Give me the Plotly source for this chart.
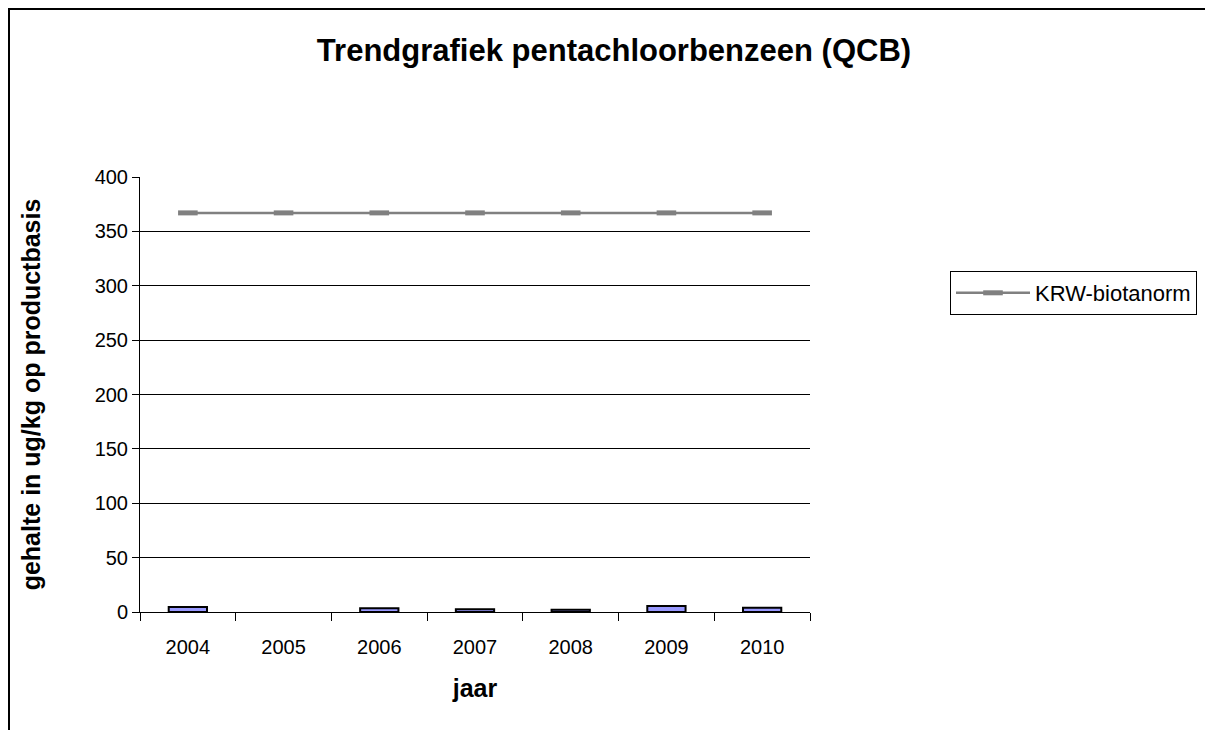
import plotly.graph_objects as go

years = ["2004", "2005", "2006", "2007", "2008", "2009", "2010"]
qcb_values = [4.5, None, 3.5, 2.5, 2.0, 5.5, 4.0]
norm_values = [367, 367, 367, 367, 367, 367, 367]
norm_name = "KRW-biotanorm"
y_ticks = [0, 50, 100, 150, 200, 250, 300, 350, 400]
grid_vals = [50, 100, 150, 200, 250, 300, 350]

FONT = "Liberation Sans, Arial, sans-serif"
W, H = 1205, 722
L, R, T, B = 132, 403, 169, 118
PW, PH = W - L - R, H - T - B

fig = go.Figure()
fig.add_trace(go.Bar(
    x=years, y=qcb_values, width=0.4,
    marker=dict(color="#9999FF", line=dict(color="black", width=2)),
    showlegend=False, name="QCB",
))
fig.add_trace(go.Scatter(
    x=years, y=norm_values, name=norm_name, mode="lines+markers",
    line=dict(color="#808080", width=2.5),
    marker=dict(symbol="line-ew", size=14, color="#808080",
                line=dict(color="#808080", width=5)),
))

fig.update_layout(
    width=W, height=H,
    margin=dict(l=L, r=R, t=T, b=B, autoexpand=False),
    paper_bgcolor="white", plot_bgcolor="white",
    font=dict(family=FONT, color="black", size=20),
    title=dict(text="<b>Trendgrafiek pentachloorbenzeen (QCB)</b>",
               x=606 / W, xanchor="center", y=1 - 42 / H, yanchor="middle",
               font=dict(size=31, family=FONT, color="black")),
    showlegend=True,
    legend=dict(x=(942 - L) / PW, y=(T + PH - 263) / PH, xanchor="left", yanchor="top",
                bordercolor="black", borderwidth=1, bgcolor="white",
                itemwidth=74,
                font=dict(size=22, family=FONT, color="black")),
)
fig.update_xaxes(
    type="category", tickson="boundaries", ticks="outside", ticklen=8,
    tickcolor="black", tickwidth=1, showline=True, linecolor="black",
    linewidth=1, showgrid=False, ticklabelstandoff=17,
    tickfont=dict(size=20, family=FONT),
    title=dict(text="<b>jaar</b>", font=dict(size=25, family=FONT), standoff=22),
)
fig.update_yaxes(
    range=[0, 400], tickmode="array", tickvals=y_ticks,
    ticks="outside", ticklen=7, tickcolor="black", tickwidth=1,
    showline=True, linecolor="black", linewidth=1, showgrid=False,
    zeroline=False,
    minor=dict(tickmode="array", tickvals=grid_vals, showgrid=True,
               gridcolor="black", gridwidth=1, ticks=""),
    tickfont=dict(size=20, family=FONT),
    title=dict(text="<b>gehalte in ug/kg op productbasis</b>",
               font=dict(size=25, family=FONT), standoff=46),
)

# outer chart-area border (clipped at right/bottom like the reference)
fig.add_shape(type="rect", xref="paper", yref="paper",
              x0=(1 - L) / PW, x1=(W + 20 - L) / PW,
              y0=(T + PH - (H + 20)) / PH, y1=(T + PH - 1) / PH,
              line=dict(color="black", width=2), fillcolor="rgba(0,0,0,0)",
              layer="below")

fig.write_html("out.html")
